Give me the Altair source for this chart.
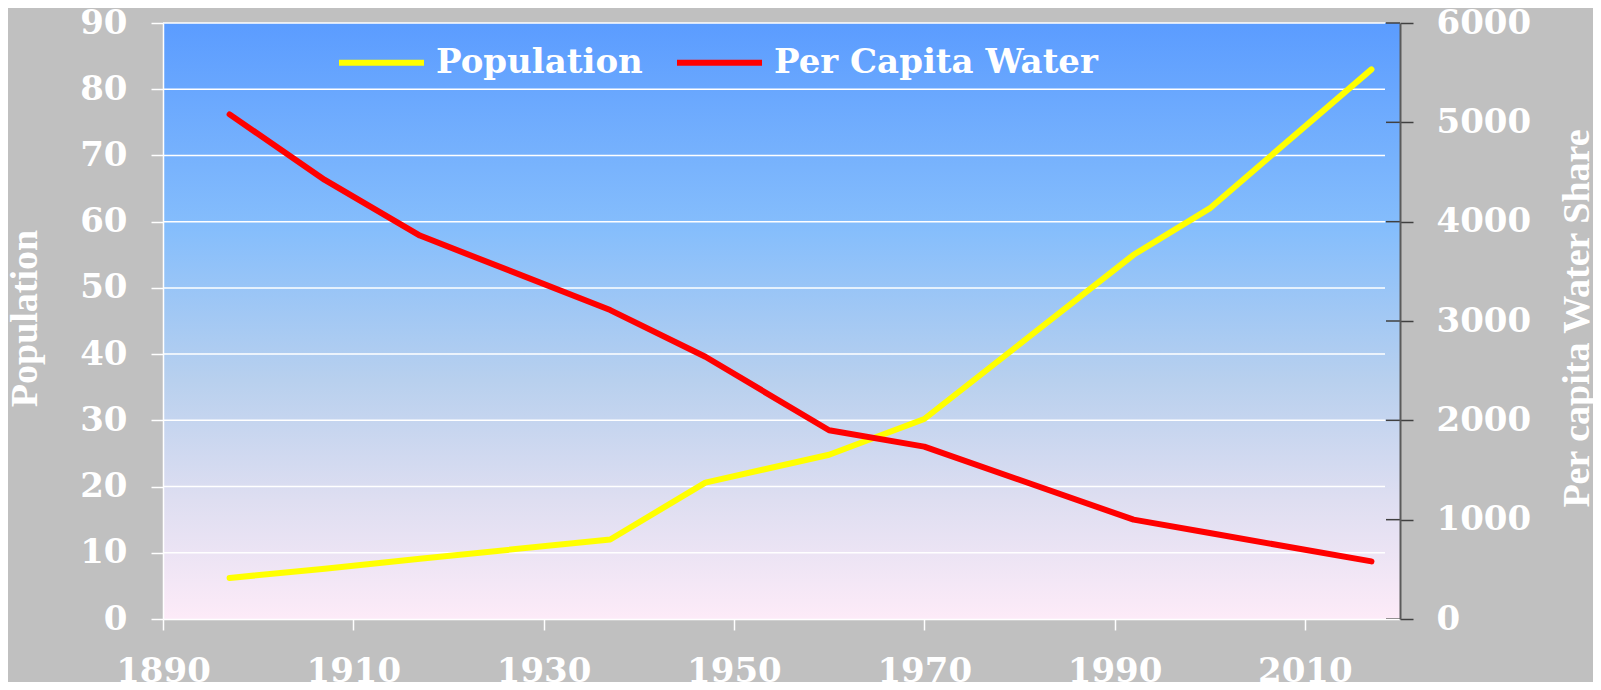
import altair as alt
import pandas as pd

# ---- data ----
years = [1897, 1907, 1917, 1937, 1947, 1960, 1970, 1992, 2000, 2017]
population = [6.2, 7.6, 9.1, 12.0, 20.6, 24.8, 30.2, 55.0, 62.0, 83.0]
water = [5080, 4420, 3860, 3110, 2640, 1900, 1735, 1000, 865, 580]
series_names = ["Population", "Per Capita Water"]
series_colors = ["#FFFF00", "#FF0000"]
x_ticks = [1890, 1910, 1930, 1950, 1970, 1990, 2010]
left_ticks = [0, 10, 20, 30, 40, 50, 60, 70, 80, 90]
right_ticks = [0, 1000, 2000, 3000, 4000, 5000, 6000]

W, H = 1237, 596
LABEL_FONT = "DejaVu Serif"
TITLE_FONT = "Liberation Serif"

df = pd.DataFrame({"year": years, "population": population, "water": water})

gradient = {
    "gradient": "linear", "x1": 0, "y1": 0, "x2": 0, "y2": 1,
    "stops": [
        {"offset": 0.0, "color": "#5B9CFF"},
        {"offset": 0.35, "color": "#86BEFC"},
        {"offset": 0.6, "color": "#B8D0EE"},
        {"offset": 0.8, "color": "#DEDEF1"},
        {"offset": 1.0, "color": "#FDEBF8"},
    ],
}

bg = alt.Chart(alt.Data(values=[{"a": 1}])).mark_rect(fill=gradient).encode(
    x=alt.value(0), x2=alt.value(W), y=alt.value(0), y2=alt.value(H)
)

grid = alt.Chart(pd.DataFrame({"v": left_ticks[1:]})).mark_rule(
    color="white", strokeWidth=1.5
).encode(
    y=alt.Y("v:Q", scale=alt.Scale(domain=[0, 90], nice=False), axis=None),
    x=alt.value(0), x2=alt.value(W - 15),
)

x_axis = alt.Axis(
    values=x_ticks, format="d", title=None, grid=False,
    domainColor="white", domainWidth=1.5, tickColor="white", tickWidth=1.5,
    tickSize=11, labelPadding=24, labelFont=LABEL_FONT, labelFontSize=34,
    labelFontWeight="bold", labelColor="white", labelFlush=False,
    labelOverlap=False, zindex=1,
)
x_enc = alt.X("year:Q", scale=alt.Scale(domain=[1890, 2020], nice=False, zero=False), axis=x_axis)

color_scale = alt.Scale(domain=series_names, range=series_colors)
legend = alt.Legend(
    orient="none", legendX=173, legendY=-6, direction="horizontal", title=None,
    symbolType="stroke", symbolStrokeWidth=6, symbolSize=7225,
    labelColor="white", labelFont=LABEL_FONT, labelFontSize=34,
    labelFontWeight="bold", labelLimit=1000, columnPadding=22,
    labelOffset=9, padding=0,
)

left_axis = alt.Axis(
    orient="left", values=left_ticks, format="d", grid=False,
    domainColor="white", domainWidth=1.5, tickColor="white", tickWidth=1.5,
    tickSize=12, labelPadding=24, labelFont=LABEL_FONT, labelFontSize=34,
    labelFontWeight="bold", labelColor="white", labelFlush=False,
    labelOverlap=False, title="Population", titleFont=TITLE_FONT,
    titleFontSize=38, titleFontWeight="bold", titleColor="white",
    titleAngle=270, titleX=-138, titleY=295, titleAlign="center",
    titleBaseline="middle", zindex=1,
)

right_axis = alt.Axis(
    orient="right", values=right_ticks, format="d", grid=False,
    domainColor="#5A5A5A", domainWidth=2, tickColor="#404040", tickWidth=1.5,
    tickSize=13, labelPadding=23, labelFont=LABEL_FONT, labelFontSize=34,
    labelFontWeight="bold", labelColor="white", labelFlush=False,
    labelOverlap=False, title="Per capita Water Share", titleFont=TITLE_FONT,
    titleFontSize=38, titleFontWeight="bold", titleColor="white",
    titleAngle=270, titleX=177, titleY=295, titleAlign="center",
    titleBaseline="middle", zindex=1,
)

pop = alt.Chart(df).transform_calculate(series="'Population'").mark_line(
    strokeWidth=6, strokeCap="round", strokeJoin="round"
).encode(
    x=x_enc,
    y=alt.Y("population:Q", scale=alt.Scale(domain=[0, 90], nice=False), axis=left_axis),
    color=alt.Color("series:N", scale=color_scale, legend=legend),
)

wat = alt.Chart(df).transform_calculate(series="'Per Capita Water'").mark_line(
    strokeWidth=6, strokeCap="round", strokeJoin="round"
).encode(
    x=x_enc,
    y=alt.Y("water:Q", scale=alt.Scale(domain=[0, 6000], nice=False), axis=right_axis),
    color=alt.Color("series:N", scale=color_scale, legend=legend),
)

cross = alt.Chart(pd.DataFrame({"v": right_ticks})).mark_rule(
    color="#404040", strokeWidth=1.5
).encode(
    y=alt.Y("v:Q", scale=alt.Scale(domain=[0, 6000], nice=False), axis=None),
    x=alt.value(W - 14), x2=alt.value(W),
)

chart = alt.layer(bg, grid, pop, wat, cross).resolve_scale(
    y="independent"
).properties(
    width=W, height=H,
    autosize=alt.AutoSizeParams(type="none"),
    padding={"left": 155, "top": 15, "right": 193, "bottom": 63},
).configure(
    background="#C0C0C0"
).configure_view(stroke=None)

chart.save("out.html", embed_options={"renderer": "svg", "actions": False})
